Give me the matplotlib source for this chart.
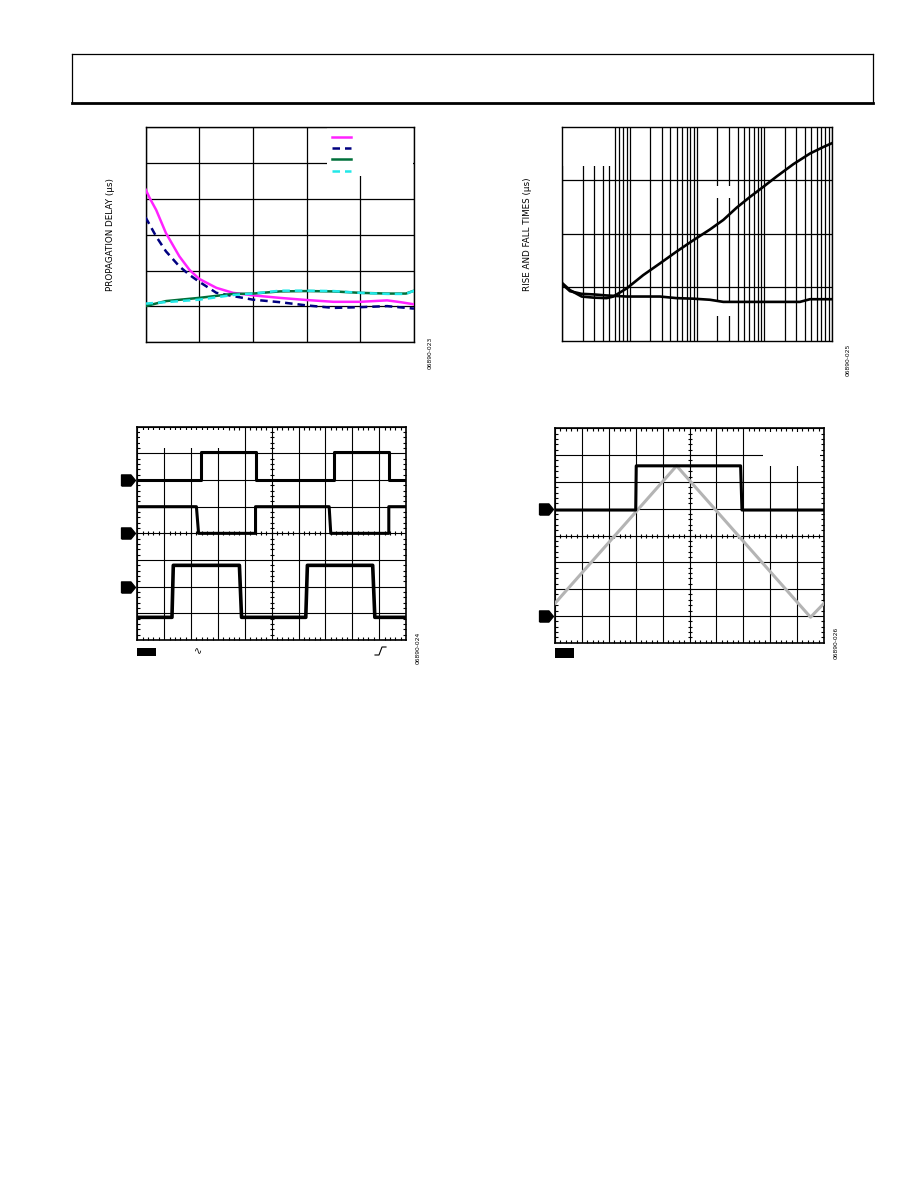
import numpy as np
import matplotlib
matplotlib.use('Agg')
import matplotlib.pyplot as plt
from matplotlib.patches import Rectangle
from matplotlib.lines import Line2D
from matplotlib.ticker import MultipleLocator, LogLocator, NullFormatter

# ---- propagation delay (top left), grid units: 5 x 6 divisions
pd_x_mag = [0, 0.08, 0.2, 0.38, 0.63, 0.82, 1.0, 1.32, 1.63, 2.0, 2.5, 3.0, 3.5, 4.0, 4.5, 4.75, 5.0]
pd_mag = [4.27, 4.02, 3.69, 3.05, 2.40, 2.02, 1.77, 1.52, 1.38, 1.31, 1.24, 1.18, 1.13, 1.13, 1.17, 1.12, 1.06]
pd_x_navy = [0, 0.2, 0.38, 0.63, 0.82, 1.0, 1.32, 1.63, 2.0, 2.5, 3.0, 3.5, 4.0, 4.5, 5.0]
pd_navy = [3.49, 2.95, 2.54, 2.12, 1.88, 1.69, 1.38, 1.29, 1.19, 1.12, 1.03, 0.96, 0.98, 1.01, 0.94]
pd_x_low = [0, 0.38, 1.0, 1.63, 2.0, 2.5, 3.0, 3.5, 4.0, 4.5, 4.85, 5.0]
pd_green = [1.01, 1.15, 1.24, 1.35, 1.36, 1.42, 1.43, 1.42, 1.38, 1.36, 1.36, 1.44]
pd_cyan = [1.08, 1.12, 1.19, 1.32, 1.36, 1.44, 1.44, 1.43, 1.38, 1.35, 1.35, 1.44]

# ---- rise and fall times (top right), log x
rf_x_rise = [1, 1.3, 1.94, 2.88, 4.55, 5.72, 9.0, 15.9, 28.3, 49.8, 88, 155, 246, 389, 613, 970, 1520, 2690, 4770, 7480, 10000]
rf_rise = [1.08, 0.95, 0.83, 0.81, 0.80, 0.83, 0.98, 1.23, 1.45, 1.67, 1.88, 2.08, 2.26, 2.49, 2.69, 2.88, 3.07, 3.30, 3.50, 3.62, 3.69]
rf_x_fall = [1, 1.3, 1.94, 2.88, 4.55, 9.0, 28.3, 49.8, 88, 155, 246, 970, 3370, 4770, 10000]
rf_fall = [1.06, 0.93, 0.88, 0.87, 0.85, 0.83, 0.83, 0.80, 0.79, 0.77, 0.73, 0.73, 0.73, 0.78, 0.78]

# ---- scope capture 1 (bottom left), divisions 10 x 8
s1_t1 = [0, 2.36, 2.36, 4.40, 4.40, 7.31, 7.31, 9.36, 9.36, 10]
s1_v1 = [6.0, 6.0, 7.05, 7.05, 6.0, 6.0, 7.05, 7.05, 6.0, 6.0]
s1_t2 = [0, 2.20, 2.28, 4.40, 4.40, 7.14, 7.20, 9.36, 9.36, 10]
s1_v2 = [5.0, 5.0, 4.0, 4.0, 5.0, 5.0, 4.0, 4.0, 5.0, 5.0]
s1_t3 = [0, 1.29, 1.34, 3.80, 3.88, 6.27, 6.33, 8.76, 8.84, 10]
s1_v3 = [0.85, 0.85, 2.8, 2.8, 0.85, 0.85, 2.8, 2.8, 0.85, 0.85]
s1_refs = [6.0, 4.0, 2.0]

# ---- scope capture 2 (bottom right)
s2_t_sq = [0, 3.0, 3.02, 6.90, 6.95, 10]
s2_v_sq = [4.95, 4.95, 6.6, 6.6, 4.95, 4.95]
s2_t_tri = [0, 4.52, 9.5, 10]
s2_v_tri = [1.47, 6.6, 0.95, 1.47]
s2_refs = [5.0, 1.0]

fig_ids = ['06890-023', '06890-025', '06890-024', '06890-026']

W, H = 918, 1188
fig = plt.figure(figsize=(W / 100, H / 100), dpi=100)


def box(x0, y0, x1, y1):
    return [x0 / W, 1 - y1 / H, (x1 - x0) / W, (y1 - y0) / H]


# header frame
hl, hr, ht, hb = 72 / W, 873 / W, 1 - 54 / H, 1 - 103 / H
fig.add_artist(Line2D([hl, hr], [ht, ht], color='black', lw=0.9))
fig.add_artist(Line2D([hl, hl], [ht, hb], color='black', lw=0.9))
fig.add_artist(Line2D([hr, hr], [ht, hb], color='black', lw=0.9))
fig.add_artist(Line2D([hl, hr], [hb, hb], color='black', lw=2.0))


def white(ax, x0, x1, y0, y1):
    ax.add_patch(Rectangle((x0, y0), x1 - x0, y1 - y0, facecolor='white',
                           edgecolor='none', zorder=1))


def plain(ax):
    ax.set_axisbelow(True)
    ax.tick_params(which='both', length=0, labelbottom=False, labelleft=False)
    for s in ax.spines.values():
        s.set_linewidth(1.0)


# ================= top left
ax1 = fig.add_axes(box(145.5, 127.3, 414, 342.3))
plain(ax1)
ax1.set_xlim(0, 5)
ax1.set_ylim(0, 6)
ax1.set_xticks(range(6))
ax1.set_yticks(range(7))
ax1.grid(True, color='black', lw=0.9)
white(ax1, 3.38, 4.98, 4.64, 5.98)
l1, = ax1.plot(pd_x_mag, pd_mag, color='#ff22ff', lw=1.8, zorder=3)
l2, = ax1.plot(pd_x_navy, pd_navy, color='#000080', lw=1.8, ls=(0, (3, 2)), zorder=3)
l3, = ax1.plot(pd_x_low, pd_green, color='#00703a', lw=1.8, zorder=3)
l4, = ax1.plot(pd_x_low, pd_cyan, color='#22e8e8', lw=1.8, ls=(0, (3, 2)), zorder=4)
ax1.legend([l1, l2, l3, l4], [' '] * 4, loc='upper left', bbox_to_anchor=(0.695, 0.975),
           frameon=False, fontsize=6, labelspacing=0.28, handlelength=2.3,
           borderpad=0, borderaxespad=0, handletextpad=0.2)
ax1.set_ylabel('PROPAGATION DELAY (µs)', fontsize=6.3, labelpad=22)
fig.text(430 / W, 1 - 353 / H, fig_ids[0], rotation=90, fontsize=4.3,
         ha='center', va='center')

# ================= top right
ax2 = fig.add_axes(box(562.3, 126.7, 831.7, 341))
plain(ax2)
ax2.set_xscale('log')
ax2.set_xlim(1, 1e4)
ax2.set_ylim(0, 4)
ax2.xaxis.set_major_locator(LogLocator(base=10))
ax2.xaxis.set_minor_locator(LogLocator(base=10, subs=np.arange(2, 10)))
ax2.xaxis.set_minor_formatter(NullFormatter())
ax2.set_yticks([1, 2, 3])
ax2.grid(True, which='both', axis='x', color='black', lw=0.9)
ax2.grid(True, which='major', axis='y', color='black', lw=0.9)
ax2.tick_params(which='both', length=0, labelbottom=False, labelleft=False)
white(ax2, 1.04, 5.6, 3.27, 3.98)
white(ax2, 180, 330, 2.66, 2.90)
white(ax2, 180, 330, 0.47, 0.72)
ax2.plot(rf_x_rise, rf_rise, color='black', lw=1.9, zorder=3)
ax2.plot(rf_x_fall, rf_fall, color='black', lw=1.9, zorder=3)
ax2.set_ylabel('RISE AND FALL TIMES (µs)', fontsize=6.3, labelpad=22)
fig.text(848 / W, 1 - 360 / H, fig_ids[1], rotation=90, fontsize=4.3,
         ha='center', va='center')


# ================= scope style
ref_marker = [(-1, -0.8), (0.35, -0.8), (1, 0), (0.35, 0.8), (-1, 0.8), (-1, -0.8)]


def scope(ax):
    ax.set_axisbelow(True)
    ax.set_xlim(0, 10)
    ax.set_ylim(0, 8)
    ax.xaxis.set_major_locator(MultipleLocator(1))
    ax.yaxis.set_major_locator(MultipleLocator(1))
    ax.xaxis.set_minor_locator(MultipleLocator(0.2))
    ax.yaxis.set_minor_locator(MultipleLocator(0.2))
    ax.tick_params(which='major', length=0, labelbottom=False, labelleft=False)
    ax.tick_params(which='minor', direction='in', length=2.2, width=0.8,
                   top=True, right=True, color='black')
    ax.grid(True, which='major', color='black', lw=0.8)
    for s in ax.spines.values():
        s.set_linewidth(1.2)
    ticks = np.arange(0.2, 10, 0.2)
    ax.plot(ticks, np.full(len(ticks), 4.0), ls='none', marker='|', ms=3.5,
            mew=0.8, color='black', zorder=2)
    ticks = np.arange(0.2, 8, 0.2)
    ax.plot(np.full(len(ticks), 5.0), ticks, ls='none', marker='_', ms=3.5,
            mew=0.8, color='black', zorder=2)


# ================= bottom left
ax3 = fig.add_axes(box(137.3, 426.7, 406, 640))
scope(ax3)
white(ax3, 0.1, 3.3, 7.2, 7.88)
ax3.plot(s1_t1, s1_v1, color='black', lw=2.2, zorder=3)
ax3.plot(s1_t2, s1_v2, color='black', lw=2.2, zorder=3)
ax3.plot(s1_t3, s1_v3, color='black', lw=2.6, zorder=3)
ax3.plot(np.full(len(s1_refs), -0.35), s1_refs, ls='none', marker=ref_marker,
         ms=10, color='black', clip_on=False)
ax3.add_patch(Rectangle((0, -0.036), 0.068, -0.038, transform=ax3.transAxes,
                        facecolor='black', clip_on=False))
fig.text(198 / W, 1 - 651 / H, '∿', fontsize=7, ha='center', va='center')
fig.add_artist(Line2D(np.array([375, 379, 382, 386]) / W,
                      1 - np.array([655, 655, 647, 647]) / H,
                      color='black', lw=0.8))
fig.text(418 / W, 1 - 648 / H, fig_ids[2], rotation=90, fontsize=4.3,
         ha='center', va='center')

# ================= bottom right
ax4 = fig.add_axes(box(555, 428.3, 824, 642.7))
scope(ax4)
white(ax4, 7.73, 9.85, 6.6, 7.88)
ax4.plot(s2_t_tri, s2_v_tri, color='#b4b4b4', lw=2.2, zorder=3)
ax4.plot(s2_t_sq, s2_v_sq, color='black', lw=2.2, zorder=4)
ax4.plot(np.full(len(s2_refs), -0.35), s2_refs, ls='none', marker=ref_marker,
         ms=10, color='black', clip_on=False)
ax4.add_patch(Rectangle((0, -0.026), 0.0695, -0.044, transform=ax4.transAxes,
                        facecolor='black', clip_on=False))
fig.text(836 / W, 1 - 643 / H, fig_ids[3], rotation=90, fontsize=4.3,
         ha='center', va='center')

fig.savefig('out.png', dpi=100)
